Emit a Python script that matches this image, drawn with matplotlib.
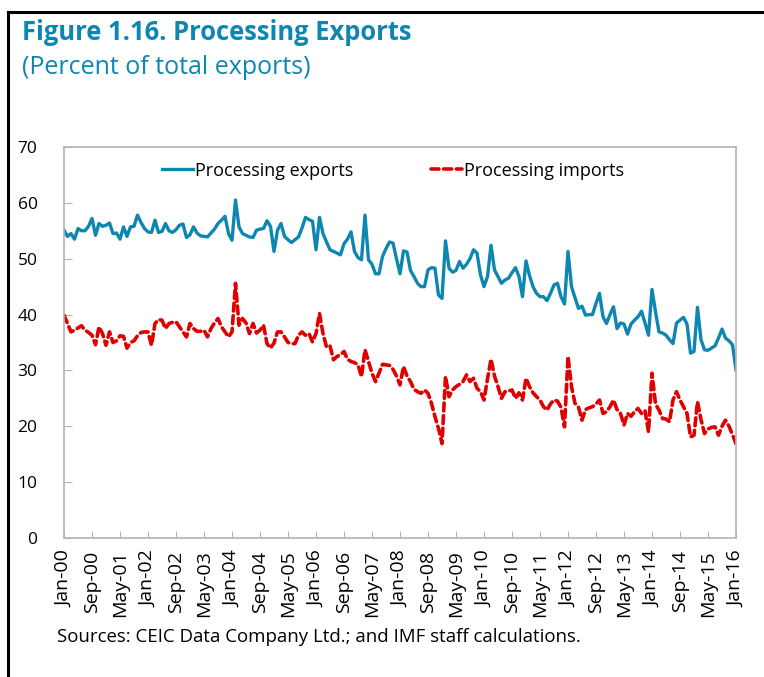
import matplotlib
matplotlib.use("Agg")
import matplotlib.pyplot as plt
from matplotlib.lines import Line2D

plt.rcParams['font.family'] = ['Open Sans', 'DejaVu Sans']

# monthly shares, Jan-2000 .. Jan-2016 (percent of total exports)
exports = [
    55.1, 54.0, 54.5, 53.5, 55.4, 55.0, 55.0, 55.8, 57.2, 54.2, 56.3, 55.8,
    56.0, 56.4, 54.5, 54.6, 53.5, 55.7, 54.0, 55.7, 55.8, 57.8, 56.5, 55.4,
    54.8, 54.7, 56.9, 54.7, 54.9, 56.3, 55.0, 54.7, 55.2, 56.0, 56.2, 53.8,
    54.3, 55.7, 54.6, 54.1, 54.0, 53.9, 54.6, 55.3, 56.3, 56.9, 57.6, 54.5,
    53.3, 60.5, 55.7, 54.5, 54.2, 53.9, 53.8, 55.1, 55.3, 55.4, 56.8, 55.8,
    51.3, 55.1, 56.3, 54.0, 53.4, 52.9, 53.4, 53.9, 55.5, 57.4, 57.0, 56.7,
    51.6, 57.4, 54.5, 53.0, 51.6, 51.3, 51.0, 50.7, 52.7, 53.5, 54.8, 51.3,
    50.2, 49.8, 57.8, 49.8, 49.0, 47.3, 47.3, 50.4, 51.8, 53.0, 52.8, 50.0,
    47.3, 51.4, 51.2, 47.9, 46.8, 45.6, 45.0, 45.0, 48.0, 48.4, 48.3, 43.5,
    42.9, 53.2, 48.3, 47.6, 47.9, 49.5, 48.3, 49.0, 50.0, 51.6, 51.0, 47.1,
    45.0, 46.8, 52.4, 48.0, 46.8, 45.6, 46.2, 46.5, 47.5, 48.4, 46.8, 43.2,
    49.6, 47.0, 45.0, 43.8, 43.2, 43.2, 42.5, 43.8, 45.3, 45.6, 43.2, 41.9,
    51.3, 45.0, 43.0, 41.1, 41.5, 39.9, 40.0, 40.0, 42.0, 43.8, 39.6, 38.4,
    40.0, 41.4, 37.5, 38.5, 38.3, 36.5, 38.3, 39.0, 39.6, 40.6, 38.5, 36.3,
    44.5, 40.5, 36.9, 36.7, 36.3, 35.5, 34.8, 38.5, 39.0, 39.5, 38.3, 33.1,
    33.4, 41.3, 35.5, 33.7, 33.6, 34.0, 34.4, 35.8, 37.4, 35.8, 35.3, 34.6,
    30.1,
]

imports = [
    39.9, 38.4, 36.9, 37.2, 37.6, 38.0, 37.2, 36.8, 36.3, 34.6, 37.8, 36.6,
    34.5, 36.9, 35.0, 35.3, 36.2, 36.1, 34.0, 35.0, 35.3, 36.2, 36.8, 36.9,
    36.9, 34.5, 38.4, 39.1, 39.0, 37.5, 38.4, 38.6, 38.7, 37.8, 36.9, 36.0,
    38.4, 37.5, 37.0, 37.0, 37.2, 36.0, 37.5, 38.5, 39.3, 37.8, 36.9, 36.0,
    36.9, 45.6, 38.1, 39.3, 38.5, 36.6, 38.4, 36.7, 37.2, 38.1, 34.8, 34.0,
    34.9, 36.9, 36.9, 36.0, 35.0, 34.8, 34.8, 36.3, 36.9, 36.3, 36.6, 35.1,
    36.6, 40.2, 36.6, 34.2, 34.4, 31.9, 32.5, 32.8, 33.4, 32.0, 31.6, 31.4,
    31.0, 28.9, 33.7, 31.6, 29.5, 28.0, 29.5, 31.1, 31.0, 30.9, 30.2, 29.0,
    27.4, 30.7, 29.0, 28.0, 26.6, 26.2, 25.9, 26.5, 25.9, 24.1, 21.7, 19.6,
    16.9, 28.9, 25.3, 26.5, 27.1, 27.5, 28.0, 29.2, 28.0, 28.6, 26.8, 26.2,
    24.7, 28.5, 32.0, 29.0, 27.1, 25.0, 26.2, 26.3, 26.5, 25.0, 26.0, 24.7,
    28.6, 27.1, 26.0, 25.3, 24.7, 23.5, 22.9, 24.0, 24.7, 24.5, 23.4, 19.9,
    32.5, 27.1, 24.1, 23.4, 21.1, 23.0, 23.3, 23.5, 24.0, 24.7, 22.3, 22.6,
    23.5, 24.7, 23.0, 22.3, 20.2, 22.3, 21.8, 22.6, 23.2, 22.3, 22.8, 19.0,
    29.5, 24.0, 22.9, 21.4, 21.3, 20.8, 24.7, 26.2, 24.7, 23.5, 22.3, 18.1,
    18.4, 24.4, 21.2, 18.7, 19.5, 19.8, 19.9, 18.4, 20.0, 21.1, 20.0, 18.5,
    16.9,
]

tick_labels = ['Jan-00', 'Sep-00', 'May-01', 'Jan-02', 'Sep-02', 'May-03', 'Jan-04',
               'Sep-04', 'May-05', 'Jan-06', 'Sep-06', 'May-07', 'Jan-08', 'Sep-08',
               'May-09', 'Jan-10', 'Sep-10', 'May-11', 'Jan-12', 'Sep-12', 'May-13',
               'Jan-14', 'Sep-14', 'May-15', 'Jan-16']

blue = '#0e86b2'
red = '#e00000'
gray = '#b4b4b4'

months = list(range(len(exports)))

fig = plt.figure(figsize=(7.64, 6.77), dpi=100)

# frame lines (top and left) like the report box
fig.add_artist(Line2D([0.0105, 1.0], [1 - 12/677, 1 - 12/677], color='black', lw=2.2))
fig.add_artist(Line2D([0.0105, 0.0105], [0.0, 1 - 12/677], color='black', lw=2.2))

fig.text(22/764, 1 - 33/677, 'Figure 1.16. Processing Exports', color=blue,
         fontsize=18.4, fontweight='bold', va='center', ha='left')
fig.text(22/764, 1 - 68/677, '(Percent of total exports)', color=blue,
         fontsize=18, va='center', ha='left')

ax = fig.add_axes([64/764, 1 - 538/677, 672/764, 391/677])
ax.plot(months, exports, color=blue, lw=2.4, label='Processing exports',
        solid_joinstyle='round')
ax.plot(months, imports, color=red, lw=2.6, dashes=(2.2, 1.3),
        dash_capstyle='round', label='Processing imports')

ax.set_xlim(0, 192)
ax.set_ylim(0, 70)
ax.set_yticks(range(0, 71, 10))
ax.set_xticks(range(0, 193, 8))
ax.set_xticklabels(tick_labels, rotation=90)
ax.tick_params(axis='y', direction='in', length=6, color=gray, labelsize=12.5, pad=19)
ax.tick_params(axis='x', direction='in', length=5, color=gray, labelsize=14, pad=9)
for s in ax.spines.values():
    s.set_color(gray)
    s.set_linewidth(1.2)

ax.legend(loc='upper center', ncol=2, frameon=False, fontsize=13,
          handlelength=1.7, handletextpad=0.12, columnspacing=4.3,
          bbox_to_anchor=(0.49, 0.995), borderaxespad=0.3)

fig.text(57/764, 1 - 637/677, 'Sources: CEIC Data Company Ltd.; and IMF staff calculations.',
         fontsize=13.4, va='center', ha='left')

fig.savefig('out.png', dpi=100)
